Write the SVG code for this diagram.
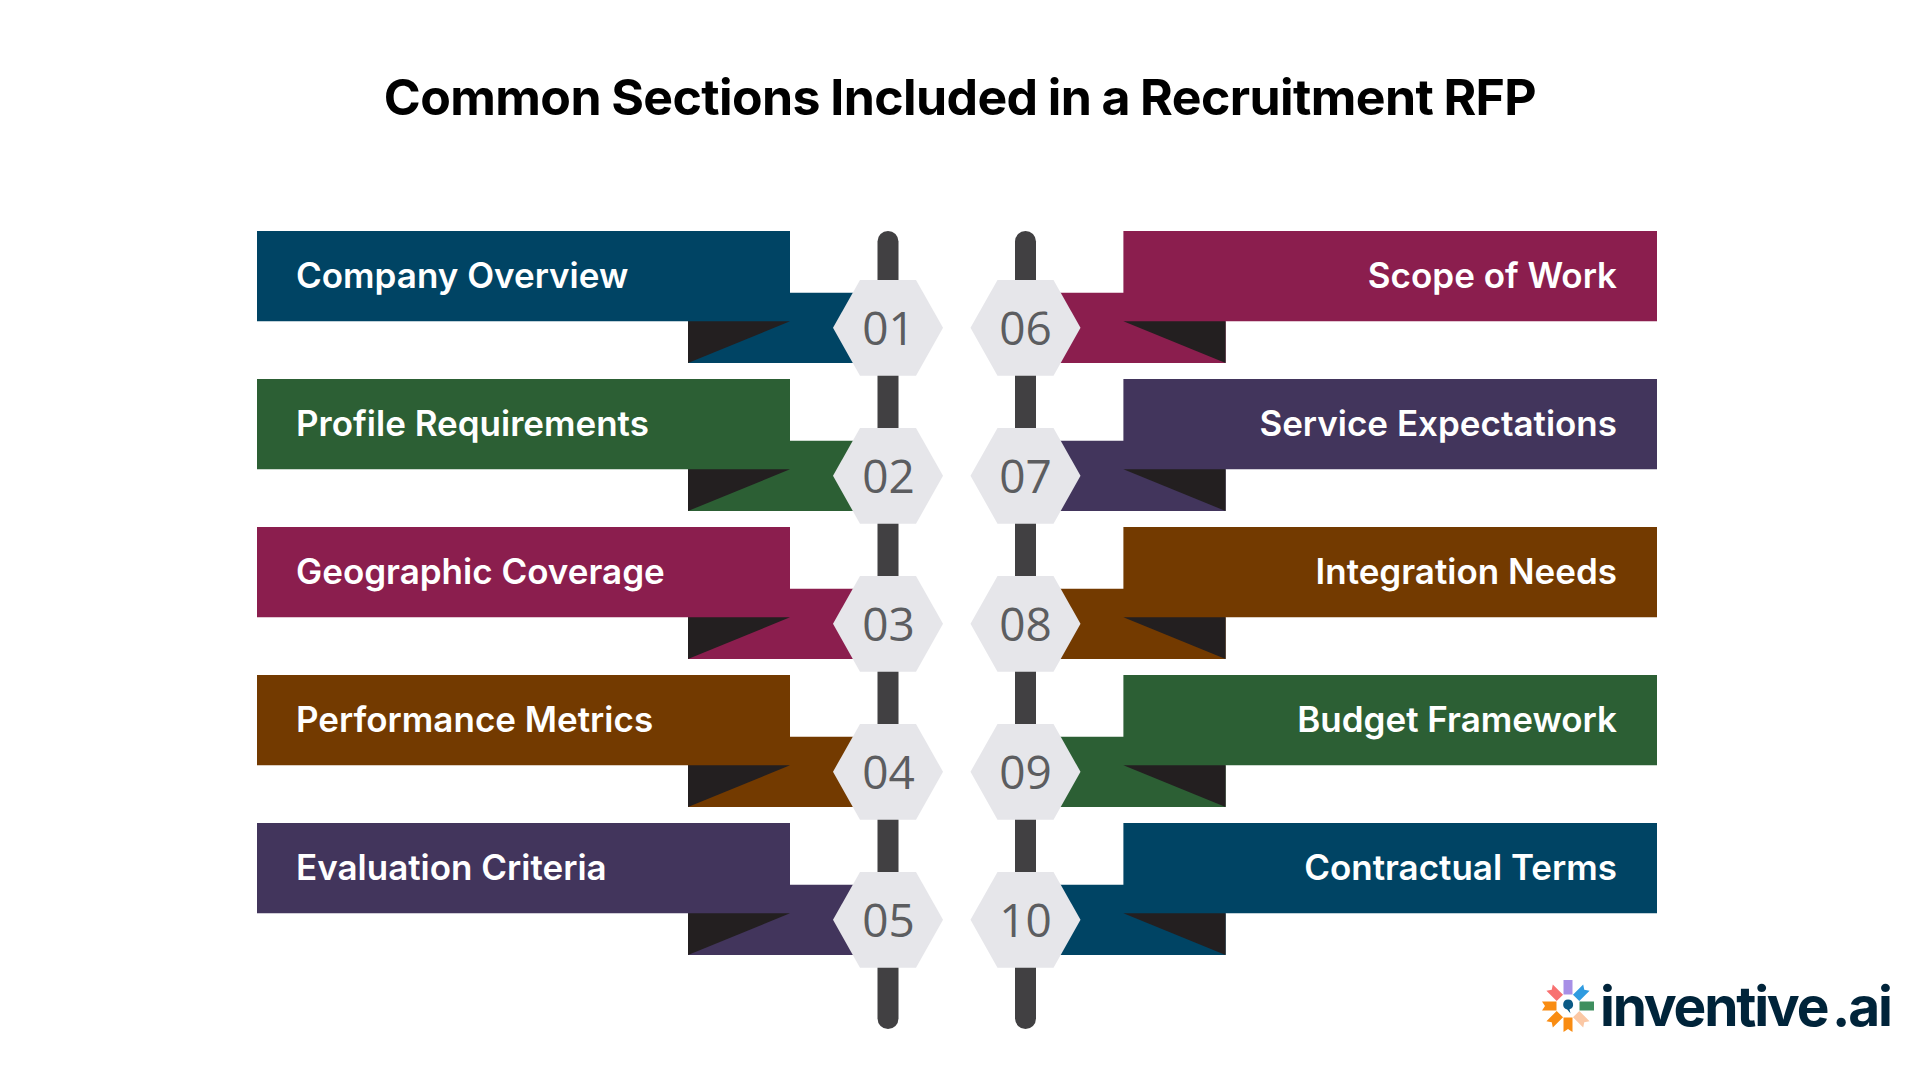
<svg xmlns="http://www.w3.org/2000/svg" width="1920" height="1080" viewBox="0 0 1920 1080">
<style>
.title{font:700 50px "Inter","Liberation Sans",sans-serif;fill:#000;letter-spacing:-0.6px;word-spacing:-1px}
.lbl{font:600 35px "Inter","Noto Sans",sans-serif;fill:#fff}
.r{text-anchor:end}
.num{font:400 46px "Open Sans","Noto Sans",sans-serif;fill:#5c5d60;text-anchor:middle}
.hex{fill:#e6e6ea}
.tri{fill:#231f20}
.bar{fill:#414042}
.navy{fill:#004464}.green{fill:#2c5f34}.maroon{fill:#8b1e4e}.brown{fill:#733a00}.purple{fill:#42355c}
.logo{font:700 55px "Inter","Liberation Sans",sans-serif;fill:#00243a;letter-spacing:-2.2px;word-spacing:-6px}
</style>
<defs>
<path id="bandL" d="M257 231H790V292.700H880V363H688V321.300H257Z"/>
<path id="bandR" d="M1657 231H1123.400V292.700H1030V363H1225.600V321.300H1657Z"/>
<path id="triL" d="M688 321.300H790L688 363Z"/>
<path id="triR" d="M1225.600 321.300H1123.400L1225.600 363Z"/>
<path id="hexL" d="M860 280H916L943 327.800L916 375.700H860L833 327.800Z"/>
<path id="hexR" d="M997.500 280H1053.500L1080.500 327.800L1053.500 375.700H997.500L970.500 327.800Z"/>
</defs>
<rect width="1920" height="1080" fill="#fff"/>
<text class="title" x="960" y="115" text-anchor="middle">Common Sections Included in a Recruitment RFP</text>
<g id="connectors">
<rect class="bar" x="877.500" y="231" width="21" height="798" rx="10.500"/>
<rect class="bar" x="1015" y="231" width="21" height="798" rx="10.500"/>
</g>
<g id="node-01"><use href="#bandL" class="navy"/><use href="#triL" class="tri"/><use href="#hexL" class="hex"/><text class="lbl" x="296" y="288">Company Overview</text><text class="num" x="888.500" y="345">01</text></g>
<g id="node-02" transform="translate(0 148)"><use href="#bandL" class="green"/><use href="#triL" class="tri"/><use href="#hexL" class="hex"/><text class="lbl" x="296" y="288">Profile Requirements</text><text class="num" x="888.500" y="345">02</text></g>
<g id="node-03" transform="translate(0 296)"><use href="#bandL" class="maroon"/><use href="#triL" class="tri"/><use href="#hexL" class="hex"/><text class="lbl" x="296" y="288">Geographic Coverage</text><text class="num" x="888.500" y="345">03</text></g>
<g id="node-04" transform="translate(0 444)"><use href="#bandL" class="brown"/><use href="#triL" class="tri"/><use href="#hexL" class="hex"/><text class="lbl" x="296" y="288">Performance Metrics</text><text class="num" x="888.500" y="345">04</text></g>
<g id="node-05" transform="translate(0 592)"><use href="#bandL" class="purple"/><use href="#triL" class="tri"/><use href="#hexL" class="hex"/><text class="lbl" x="296" y="288">Evaluation Criteria</text><text class="num" x="888.500" y="345">05</text></g>
<g id="node-06"><use href="#bandR" class="maroon"/><use href="#triR" class="tri"/><use href="#hexR" class="hex"/><text class="lbl r" x="1617" y="288">Scope of Work</text><text class="num" x="1025.500" y="345">06</text></g>
<g id="node-07" transform="translate(0 148)"><use href="#bandR" class="purple"/><use href="#triR" class="tri"/><use href="#hexR" class="hex"/><text class="lbl r" x="1617" y="288">Service Expectations</text><text class="num" x="1025.500" y="345">07</text></g>
<g id="node-08" transform="translate(0 296)"><use href="#bandR" class="brown"/><use href="#triR" class="tri"/><use href="#hexR" class="hex"/><text class="lbl r" x="1617" y="288">Integration Needs</text><text class="num" x="1025.500" y="345">08</text></g>
<g id="node-09" transform="translate(0 444)"><use href="#bandR" class="green"/><use href="#triR" class="tri"/><use href="#hexR" class="hex"/><text class="lbl r" x="1617" y="288">Budget Framework</text><text class="num" x="1025.500" y="345">09</text></g>
<g id="node-10" transform="translate(0 592)"><use href="#bandR" class="navy"/><use href="#triR" class="tri"/><use href="#hexR" class="hex"/><text class="lbl r" x="1617" y="288">Contractual Terms</text><text class="num" x="1025.500" y="345">10</text></g>
<g id="logo">
<g transform="translate(1568 1006)">
<path fill="#a78fe6" d="M-4.500 -26H4.500V-11.500H-4.500Z"/>
<path fill="#2f9be0" transform="rotate(45)" d="M-4.500 -26L0 -23L4.500 -26V-11.500H-4.500Z"/>
<path fill="#3f8f5f" transform="rotate(90)" d="M-4.500 -26H4.500V-11.500H-4.500Z"/>
<path fill="#fbc8a5" transform="rotate(135)" d="M-4.500 -26L0 -23L4.500 -26V-11.500H-4.500Z"/>
<path fill="#f98c12" transform="rotate(180)" d="M-4.500 -26L0 -23L4.500 -26V-11.500H-4.500Z"/>
<path fill="#f98c12" transform="rotate(225)" d="M-4.500 -26L0 -23L4.500 -26V-11.500H-4.500Z"/>
<path fill="#f98c12" transform="rotate(270)" d="M-4.500 -26L0 -23L4.500 -26V-11.500H-4.500Z"/>
<path fill="#f87171" transform="rotate(315)" d="M-4.500 -26L0 -23L4.500 -26V-11.500H-4.500Z"/>
<path fill="#0b5a85" d="M0 -6.500A5 5 0 0 1 1.500 3.300L2.500 7.500L-0.800 3.400A5 5 0 0 1 0 -6.500Z"/>
</g>
<text class="logo" x="1600" y="1026">inventive .ai</text>
</g>
</svg>
